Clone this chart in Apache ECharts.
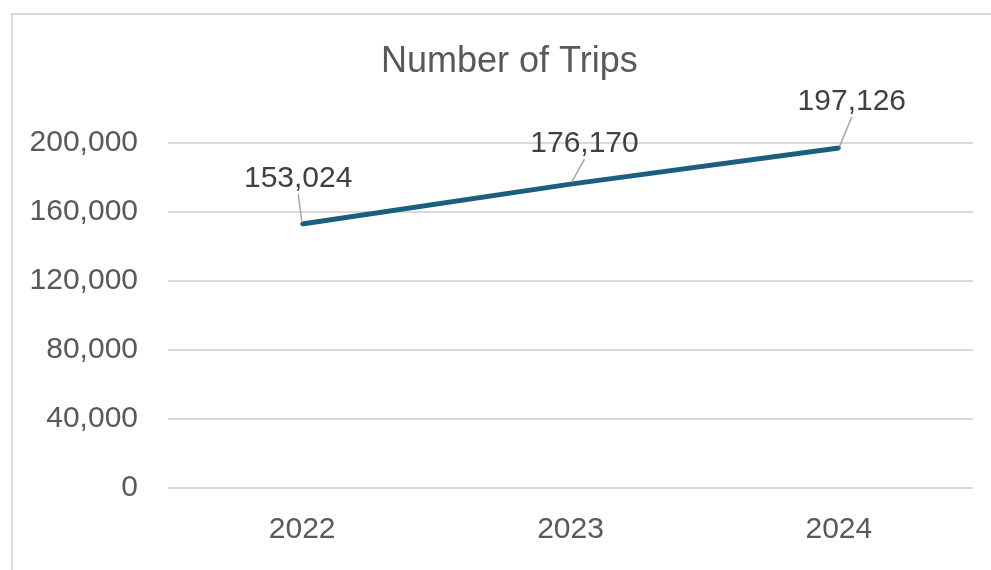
<!DOCTYPE html>
<html>
<head>
<meta charset="utf-8">
<script src="https://cdn.jsdelivr.net/npm/echarts@6/dist/echarts.min.js"></script>
<style>
  html, body { margin: 0; padding: 0; background: #fff; }
  #frame { position: absolute; left: 11px; top: 13px; width: 1000px; height: 600px; border: 2px solid #d9d9d9; box-sizing: border-box; }
  #chart { position: absolute; left: 0; top: 0; width: 991px; height: 570px; }
</style>
</head>
<body>
<div id="frame"></div>
<div id="chart"></div>
<script>
  // data
  const years = ['2022', '2023', '2024'];
  const trips = [153024, 176170, 197126];
  const yTicks = [0, 40000, 80000, 120000, 160000, 200000];
  // where each data label sits relative to its point
  const labelShift = [[-4, -23], [14, -18], [13, -24]];

  const chart = echarts.init(document.getElementById('chart'));
  const fontFamily = '"Liberation Sans", Arial, sans-serif';

  chart.setOption({
    animation: false,
    title: {
      text: 'Number of Trips',
      left: 376,
      top: 39,
      textStyle: { fontFamily: fontFamily, fontSize: 36, fontWeight: 'normal', color: '#595959' }
    },
    grid: { left: 168, right: 18, top: 143, bottom: 82 },
    xAxis: {
      type: 'category',
      data: years,
      boundaryGap: true,
      axisLine: { show: false },
      axisTick: { show: false },
      axisLabel: { fontFamily: fontFamily, fontSize: 30, color: '#595959', margin: 27 }
    },
    yAxis: {
      type: 'value',
      min: yTicks[0],
      max: yTicks[yTicks.length - 1],
      interval: yTicks[1] - yTicks[0],
      axisLine: { show: false },
      axisTick: { show: false },
      splitLine: { lineStyle: { color: '#d9d9d9', width: 2 } },
      axisLabel: {
        fontFamily: fontFamily, fontSize: 30, color: '#595959', margin: 30,
        formatter: v => v.toLocaleString('en-US')
      }
    },
    series: [{
      type: 'line',
      data: trips,
      symbol: 'circle',
      symbolSize: 4,
      itemStyle: { color: '#1a5e80' },
      lineStyle: { color: '#1a5e80', width: 5 },
      label: {
        show: true,
        position: 'top',
        fontFamily: fontFamily,
        fontSize: 30,
        color: '#404040',
        formatter: p => p.value.toLocaleString('en-US')
      },
      labelLine: { show: true, lineStyle: { color: '#a6a6a6', width: 1.5 } },
      labelLayout: p => ({ dx: labelShift[p.dataIndex][0], dy: labelShift[p.dataIndex][1] })
    }]
  });
</script>
</body>
</html>
